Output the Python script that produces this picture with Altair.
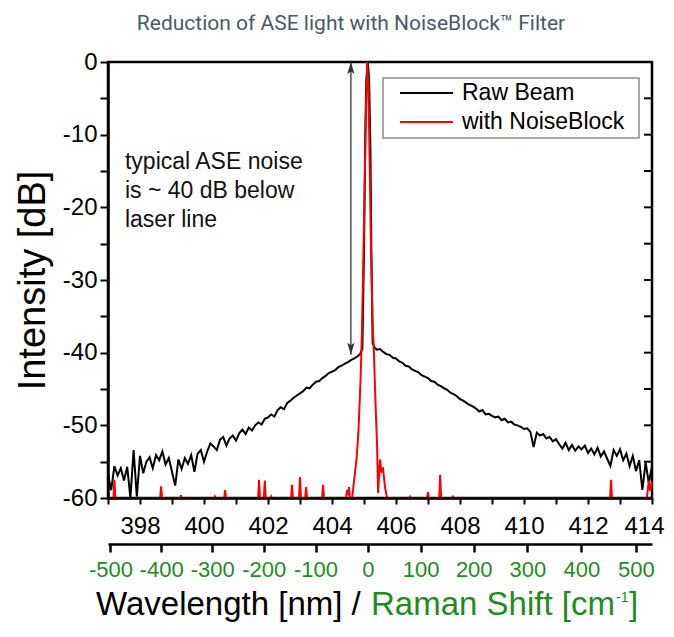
import altair as alt
import pandas as pd

TITLE = "Reduction of ASE light with NoiseBlock™ Filter"
series_names = ["Raw Beam", "with NoiseBlock"]
series_colors = ["#000000", "#ff0000"]
GREEN = "#1e8c1e"

# Raw beam (black) spectrum, wavelength [nm] and intensity [dB]
raw_wl = [397.0, 397.1, 397.2, 397.3, 397.4, 397.5, 397.6, 397.7, 397.8, 397.9,
          398.0, 398.1, 398.2, 398.3, 398.4, 398.5, 398.6, 398.7, 398.8, 398.9,
          399.0, 399.1, 399.2, 399.3, 399.4, 399.5, 399.6, 399.7, 399.8, 399.9,
          400.0, 400.1, 400.2, 400.3, 400.4, 400.5, 400.6, 400.7, 400.8, 400.9,
          401.0, 401.1, 401.2, 401.3, 401.4, 401.5, 401.6, 401.7, 401.8, 401.9,
          402.0, 402.1, 402.2, 402.3, 402.4, 402.5, 402.6, 402.7, 402.8, 402.9,
          403.0, 403.1, 403.2, 403.3, 403.4, 403.5, 403.6, 403.7, 403.8, 403.9,
          404.0, 404.1, 404.2, 404.3, 404.4, 404.5, 404.6, 404.7, 404.8,
          404.88, 404.95, 405.0, 405.04, 405.07, 405.12, 405.16, 405.2, 405.23, 405.27, 405.33,
          405.4, 405.5, 405.6, 405.7, 405.8, 405.9,
          406.0, 406.1, 406.2, 406.3, 406.4, 406.5, 406.6, 406.7, 406.8, 406.9,
          407.0, 407.1, 407.2, 407.3, 407.4, 407.5, 407.6, 407.7, 407.8, 407.9,
          408.0, 408.1, 408.2, 408.3, 408.4, 408.5, 408.6, 408.7, 408.8, 408.9,
          409.0, 409.1, 409.2, 409.3, 409.4, 409.5, 409.6, 409.7, 409.8, 409.9,
          410.0, 410.1, 410.2, 410.3, 410.4, 410.5, 410.6, 410.7, 410.8, 410.9,
          411.0, 411.1, 411.2, 411.3, 411.4, 411.5, 411.6, 411.7, 411.8, 411.9,
          412.0, 412.1, 412.2, 412.3, 412.4, 412.5, 412.6, 412.7, 412.8, 412.9,
          413.0, 413.1, 413.2, 413.3, 413.4, 413.5, 413.6, 413.7, 413.8, 413.9, 414.0]
raw_db = [-56.8, -58.9, -55.6, -56.9, -55.9, -57.6, -55.7, -60.0, -53.4, -59.8,
          -54.2, -56.6, -55.0, -54.4, -55.9, -54.1, -54.8, -53.6, -55.4, -54.5,
          -56.4, -58.3, -54.7, -56.0, -54.5, -55.3, -54.1, -56.4, -53.9, -53.4,
          -55.0, -53.6, -52.5, -52.9, -53.4, -52.0, -51.6, -52.8, -51.8, -51.4,
          -52.1, -51.1, -50.6, -51.2, -50.3, -50.7, -50.0, -49.6, -49.9, -49.1,
          -48.9, -48.5, -48.8, -47.9, -47.5, -47.8, -46.9, -46.6, -46.2, -45.9,
          -45.6, -45.3, -44.8, -44.9, -44.4, -44.0, -43.9, -43.5, -43.2, -42.8,
          -42.6, -42.4, -42.0, -41.8, -41.5, -41.3, -41.0, -40.8, -40.5,
          -40.2, -39.4, -26.0, -10.0, -2.5, 0.0, -2.5, -12.0, -26.0, -38.7, -39.3,
          -39.6, -39.5, -39.9, -40.2, -40.3, -40.7,
          -40.8, -41.2, -41.4, -41.8, -41.9, -42.3, -42.5, -42.7, -43.1, -43.3,
          -43.5, -43.9, -44.0, -44.4, -44.6, -44.9, -45.1, -45.5, -45.7, -46.0,
          -46.4, -46.6, -46.9, -47.2, -47.4, -47.7, -48.1, -47.9, -48.5, -48.4,
          -48.7, -48.9, -48.8, -49.3, -49.1, -49.6, -49.5, -49.9, -50.0, -50.2,
          -50.5, -50.4, -50.9, -53.0, -51.0, -51.4, -51.2, -51.8, -51.6, -52.2,
          -51.9, -52.6, -53.2, -52.4, -53.4, -52.7, -53.5, -52.9, -53.3, -52.8,
          -53.8, -53.2, -54.0, -53.1, -54.3, -53.6, -54.6, -55.6, -53.4, -54.2,
          -53.3, -54.8, -53.9, -55.6, -54.2, -56.3, -54.8, -58.9, -55.1, -57.9, -55.7]

# With NoiseBlock filter (red)
nb_wl = [397.00, 397.17, 397.20, 397.23, 398.63, 398.66, 398.69, 399.26, 399.28, 399.30,
         400.32, 400.34, 400.36, 400.63, 400.66, 400.69, 401.69, 401.72, 401.75, 401.87,
         401.90, 401.93, 402.08, 402.10, 402.12, 402.72, 402.75, 402.78, 402.97, 403.00,
         403.03, 403.16, 403.19, 403.22, 403.69, 403.72, 403.75, 404.44, 404.47, 404.50,
         404.53, 404.56, 404.63, 404.70, 404.77, 404.83, 404.89, 404.93, 404.98, 405.02,
         405.06, 405.10, 405.14, 405.17, 405.22, 405.27, 405.31, 405.36, 405.41, 405.44,
         405.50, 405.55, 405.59, 405.66, 405.72, 406.41, 406.44, 406.47, 406.97, 407.00,
         407.03, 407.35, 407.38, 407.41, 407.75, 407.78, 407.81, 412.69, 412.72, 412.75,
         413.84, 413.90, 413.94, 414.00]
nb_db = [-60.0, -60.0, -57.5, -60.0, -60.0, -58.4, -60.0, -60.0, -59.6, -60.0,
         -60.0, -59.8, -60.0, -60.0, -58.9, -60.0, -60.0, -57.5, -60.0, -60.0,
         -57.6, -60.0, -60.0, -59.8, -60.0, -60.0, -58.2, -60.0, -60.0, -57.1,
         -60.0, -60.0, -58.5, -60.0, -60.0, -58.2, -60.0, -60.0, -58.9, -59.6,
         -58.5, -60.0, -60.0, -57.2, -54.5, -50.5, -44.0, -38.0, -27.0, -17.0,
         -7.0, 0.0, -4.0, -12.0, -26.0, -36.0, -40.0, -47.0, -53.0, -59.3,
         -54.7, -56.5, -55.8, -58.6, -60.0, -60.0, -59.8, -60.0, -60.0, -59.2,
         -60.0, -60.0, -56.8, -60.0, -60.0, -59.8, -60.0, -60.0, -57.5, -60.0,
         -60.0, -57.6, -59.0, -57.8]

wl_ticks = list(range(397, 415))
db_ticks = list(range(-60, 1, 5))
right_ticks = [v for v in db_ticks if -60 < v < 0]
raman_ticks = [-500, -400, -300, -200, -100, 0, 100, 200, 300, 400, 500]
laser_nm = 405.12
nu0 = 1e7 / laser_nm
raman_wl = [1e7 / (nu0 - s) for s in raman_ticks]

note_lines = ["typical ASE noise", "is ~ 40 dB below", "laser line"]
note_db = [-13.8, -17.8, -21.7]
note_wl = 397.53
arrow_wl = 404.59
arrow_top = 0.0
arrow_bottom = -40.3

FONT = "Liberation Sans"

raw_df = pd.DataFrame({"wl": raw_wl, "db": raw_db})
nb_df = pd.DataFrame({"wl": nb_wl, "db": nb_db})
raman_df = pd.DataFrame({"wl": raman_wl, "shift": raman_ticks})
note_df = pd.DataFrame({"wl": [note_wl] * len(note_lines), "db": note_db, "t": note_lines})
arrow_df = pd.DataFrame({"wl": [arrow_wl], "top": [arrow_top], "bottom": [arrow_bottom]})
rt_df = pd.DataFrame({"db": right_ticks})
one = pd.DataFrame({"k": [0]})

xscale = alt.Scale(domain=[397, 414], nice=False, zero=False)
yscale = alt.Scale(domain=[-60, 0], nice=False, zero=False)

xaxis = alt.Axis(orient="bottom", values=wl_ticks,
                 labelExpr="datum.value % 2 == 0 ? '' + datum.value : ''",
                 tickSize=6, tickWidth=2, tickColor="black", domainColor="black",
                 domainWidth=2.5, labelFontSize=24, labelFont=FONT, labelColor="black",
                 labelPadding=10, labelFlush=True, labelFlushOffset=12,
                 labelOverlap=False, grid=False, title=None, zindex=1)
yaxis = alt.Axis(orient="left", values=db_ticks,
                 labelExpr="datum.value % 10 == 0 ? '' + datum.value : ''",
                 tickSize=8, tickWidth=2, tickColor="black", domainColor="black",
                 domainWidth=2.5, labelFontSize=24, labelFont=FONT, labelColor="black",
                 labelPadding=3, labelFlush=False, labelOverlap=False, grid=False,
                 title="Intensity [dB]", titleFont=FONT, titleFontSize=38,
                 titleFontWeight="normal", titleColor="black", titlePadding=10, zindex=1)

X = alt.X("wl:Q", scale=xscale, axis=xaxis)
Y = alt.Y("db:Q", scale=yscale, axis=yaxis)

raw_line = alt.Chart(raw_df).mark_line(color=series_colors[0], strokeWidth=2).encode(x=X, y=Y)
nb_line = alt.Chart(nb_df).mark_line(color=series_colors[1], strokeWidth=2).encode(x=X, y=Y)

right_tick_marks = alt.Chart(rt_df).mark_rule(color="black", strokeWidth=2).encode(
    y=Y, x=alt.value(536), x2=alt.value(544))

arrow_line = alt.Chart(arrow_df).mark_rule(color="#333333", strokeWidth=1.3).encode(
    x=X, y=alt.Y("top:Q", scale=yscale, axis=yaxis), y2="bottom:Q")
head_up = alt.Chart(arrow_df).mark_point(
    shape="M0,0L0.3,1L0,0.8L-0.3,1Z", filled=True, size=576, color="#333333", opacity=1
).encode(x=X, y=alt.Y("top:Q", scale=yscale, axis=yaxis))
head_down = alt.Chart(arrow_df).mark_point(
    shape="M0,0L0.3,-1L0,-0.8L-0.3,-1Z", filled=True, size=576, color="#333333", opacity=1
).encode(x=X, y=alt.Y("bottom:Q", scale=yscale, axis=yaxis))

note = alt.Chart(note_df).mark_text(align="left", baseline="middle", fontSize=23,
                                    font=FONT, color="#111111").encode(x=X, y=Y, text="t:N")

# legend (drawn by hand)
leg_box = alt.Chart(one).mark_rect(fill="white", stroke="#8c8c8c", strokeWidth=1.5).encode(
    x=alt.value(275), x2=alt.value(531), y=alt.value(16), y2=alt.value(76))
leg_layers = [leg_box]
for i, (name, col) in enumerate(zip(series_names, series_colors)):
    yy = 31 + 29 * i
    leg_layers.append(alt.Chart(one).mark_rule(color=col, strokeWidth=2).encode(
        x=alt.value(292), x2=alt.value(345), y=alt.value(yy)))
    leg_layers.append(alt.Chart(pd.DataFrame({"t": [name]})).mark_text(
        align="left", baseline="middle", fontSize=23, font=FONT, color="black").encode(
        x=alt.value(354), y=alt.value(yy), text="t:N"))

# x title in two colours
title_parts = ["Wavelength [nm] /", "Raman Shift [cm", "-1", "]"]
TY = 553
TS = 33
tx = [
    alt.Chart(pd.DataFrame({"t": [title_parts[0]]})).mark_text(
        align="left", baseline="alphabetic", fontSize=TS, font=FONT, color="black").encode(
        x=alt.value(-12), y=alt.value(TY), text="t:N"),
    alt.Chart(pd.DataFrame({"t": [title_parts[1]]})).mark_text(
        align="left", baseline="alphabetic", fontSize=TS, font=FONT, color=GREEN).encode(
        x=alt.value(263), y=alt.value(TY), text="t:N"),
    alt.Chart(pd.DataFrame({"t": [title_parts[2]]})).mark_text(
        align="left", baseline="alphabetic", fontSize=14, font=FONT, color=GREEN).encode(
        x=alt.value(508), y=alt.value(TY - 13), text="t:N"),
    alt.Chart(pd.DataFrame({"t": [title_parts[3]]})).mark_text(
        align="left", baseline="alphabetic", fontSize=TS, font=FONT, color=GREEN).encode(
        x=alt.value(521), y=alt.value(TY), text="t:N"),
]

main = alt.layer(raw_line, nb_line, right_tick_marks, arrow_line, head_up, head_down,
                 note, *leg_layers, *tx)

raman_axis = alt.Axis(orient="bottom", offset=46, values=raman_wl,
                      labelExpr="'' + round((%.6f - 1e7 / datum.value) / 100) * 100" % nu0,
                      tickSize=8, tickWidth=2.5, tickColor="black", domainColor="black",
                      domainWidth=2.5, labelFontSize=22, labelFont=FONT, labelColor=GREEN,
                      labelPadding=7, labelFlush=False, labelOverlap=False, grid=False,
                      title=None, zindex=1)
raman_layer = alt.Chart(raman_df).mark_point(opacity=0).encode(
    x=alt.X("wl:Q", scale=xscale, axis=raman_axis), y=alt.value(0))

chart = alt.layer(main, raman_layer).resolve_scale(x="independent").resolve_axis(
    x="independent"
).properties(
    width=544, height=436,
    title=alt.TitleParams(TITLE, anchor="middle", dx=-29, offset=16, fontSize=21,
                          font="Roboto", fontWeight="normal", color="#4b5966"),
    padding={"left": 100, "top": 54, "right": 14, "bottom": 125},
    autosize=alt.AutoSizeParams(type="none"),
).configure_view(stroke="black", strokeWidth=2.5)

chart.save("out.html", embed_options={"renderer": "svg", "actions": False})
